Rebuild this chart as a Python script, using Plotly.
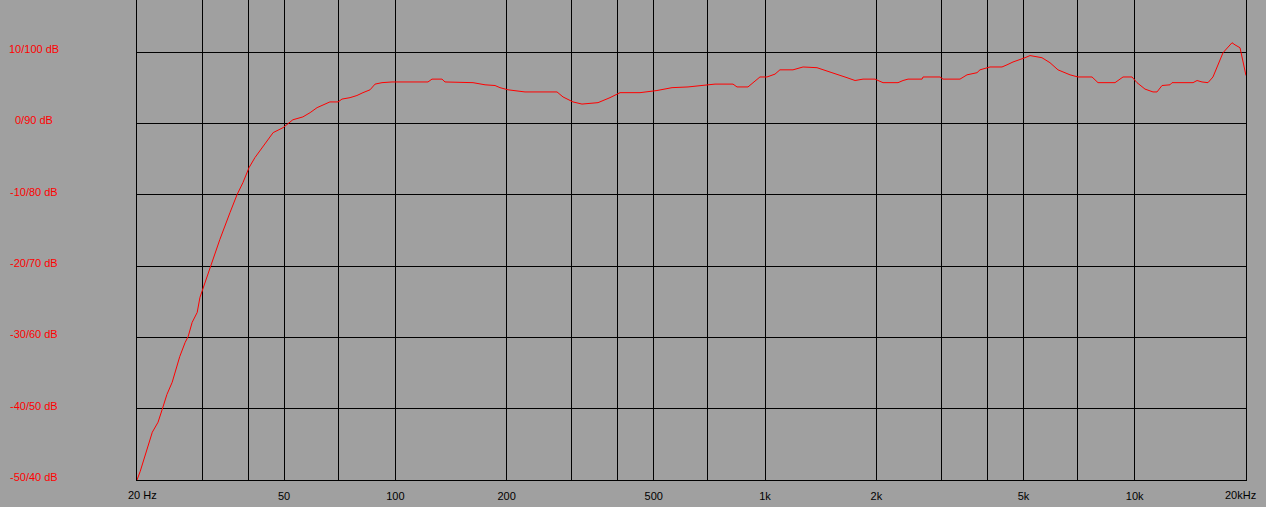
import plotly.graph_objects as go

# Frequency response data (Hz, dB)
freq_hz = [20.0, 20.4, 22.0, 22.8, 23.4, 24.1, 24.9, 26.1, 27.0, 27.5,
           28.2, 29.1, 29.6, 30.9, 31.9, 33.5, 35.7, 37.3, 38.7, 40.2,
           41.7, 43.8, 46.7, 49.7, 50.9, 52.8, 56.2, 58.8, 61.4, 66.5,
           70.0, 71.7, 75.4, 78.7, 81.7, 85.4, 88.1, 92.0, 97.9, 122.5,
           125.6, 133.7, 136.2, 147.7, 151.4, 162.2, 174.8, 186.0, 191.9, 201.7,
           224.2, 273.7, 284.1, 302.3, 319.7, 353.3, 380.7, 405.2, 458.9, 510.1,
           560.2, 618.9, 732.3, 819.0, 839.7, 899.2, 968.7, 1012, 1064, 1097,
           1190, 1267, 1382, 1426, 1517, 1666, 1752, 1841, 1983, 2085,
           2289, 2362, 2437, 2659, 2675, 2973, 3030, 3368, 3518, 3744,
           3814, 4060, 4375, 4513, 4685, 5050, 5209, 5612, 5899, 6200,
           6683, 7024, 7665, 7956, 8845, 9297, 9833, 10144, 10662, 11206,
           11488, 11852, 12458, 12614, 14380, 14744, 15208, 15784, 16282, 17330,
           17880, 18330, 18676, 19268, 19508, 20000]
level_db = [-50.0, -48.8, -43.3, -41.9, -40.1, -38.0, -36.3, -32.7, -30.7, -29.9,
            -27.9, -26.5, -24.4, -21.6, -19.5, -16.3, -12.5, -10.0, -8.3, -6.2,
            -4.8, -3.3, -1.3, -0.6, -0.2, 0.5, 0.9, 1.5, 2.2, 3.0,
            3.0, 3.4, 3.6, 3.9, 4.3, 4.7, 5.5, 5.7, 5.8, 5.8,
            6.2, 6.2, 5.8, 5.8, 5.7, 5.7, 5.4, 5.3, 5.0, 4.7,
            4.4, 4.4, 3.7, 3.0, 2.7, 2.9, 3.6, 4.3, 4.3, 4.6,
            5.0, 5.1, 5.5, 5.5, 5.1, 5.1, 6.5, 6.5, 6.9, 7.5,
            7.5, 7.9, 7.8, 7.6, 7.1, 6.4, 6.0, 6.2, 6.2, 5.7,
            5.7, 6.0, 6.2, 6.2, 6.5, 6.5, 6.2, 6.2, 6.8, 7.1,
            7.5, 7.9, 7.9, 8.2, 8.6, 9.2, 9.5, 9.2, 8.5, 7.5,
            6.8, 6.5, 6.5, 5.7, 5.7, 6.5, 6.5, 5.7, 4.8, 4.4,
            4.4, 5.3, 5.4, 5.7, 5.7, 6.0, 5.8, 5.7, 6.5, 9.9,
            10.7, 11.3, 11.0, 10.6, 9.3, 6.7]

x_grid = [20, 30, 40, 50, 70, 100, 200, 300, 400, 500, 700,
          1000, 2000, 3000, 4000, 5000, 7000, 10000, 20000]
x_text = ["", "", "", "50", "", "100", "200", "", "", "500", "",
          "1k", "2k", "", "", "5k", "", "10k", ""]
edge_labels = ["20 Hz", "20kHz"]
y_grid = [10, 0, -10, -20, -30, -40, -50]
y_text = ["10/100 dB", "0/90 dB", "-10/80 dB", "-20/70 dB",
          "-30/60 dB", "-40/50 dB", "-50/40 dB"]

BG = "#a0a0a0"
FONT = "Liberation Sans, Arial, sans-serif"

fig = go.Figure()
fig.add_trace(go.Scatter(x=freq_hz, y=level_db, mode="lines",
                         line=dict(color="#ff0000", width=1),
                         hoverinfo="skip", showlegend=False))

L, R, T, B = 137, 20, 0, 27
W, H = 1266, 507
plot_w = W - L - R

for v, t in zip(y_grid, y_text):
    fig.add_annotation(text=t, xref="paper", yref="y",
                       x=(34 - L) / plot_w, y=v, yshift=3,
                       xanchor="center", yanchor="middle", showarrow=False,
                       font=dict(family=FONT, size=11, color="#ff0000"))

# end labels of the frequency axis, nudged inward as in the original
for t, px in zip(edge_labels, [142, 1240]):
    fig.add_annotation(text=t, xref="paper", yref="paper",
                       x=(px - L) / plot_w, y=0, yshift=-15,
                       xanchor="center", yanchor="middle", showarrow=False,
                       font=dict(family=FONT, size=11, color="#000000"))

fig.update_layout(
    width=W, height=H,
    margin=dict(l=L, r=R, t=T, b=B, pad=0, autoexpand=False),
    paper_bgcolor=BG, plot_bgcolor=BG,
    xaxis=dict(type="log", range=[1.30103, 4.30103],
               tickvals=x_grid, ticktext=x_text,
               showgrid=True, gridcolor="#000000", gridwidth=1,
               showline=True, linecolor="#000000", linewidth=1,
               ticks="", ticklabelstandoff=6,
               tickfont=dict(family=FONT, size=11, color="#000000"),
               zeroline=False, fixedrange=True, automargin=False),
    yaxis=dict(range=[-50, 17.29], tickvals=y_grid, showticklabels=False,
               showgrid=True, gridcolor="#000000", gridwidth=1,
               showline=True, linecolor="#000000", linewidth=1, mirror=True,
               ticks="", zeroline=False, fixedrange=True, automargin=False),
)

fig.write_html(
    "out.html",
    config={"displayModeBar": False},
    post_script="document.body.style.margin='0';document.body.style.padding='0';"
                "document.body.style.background='#a0a0a0';"
                "document.body.style.overflow='hidden';",
)
